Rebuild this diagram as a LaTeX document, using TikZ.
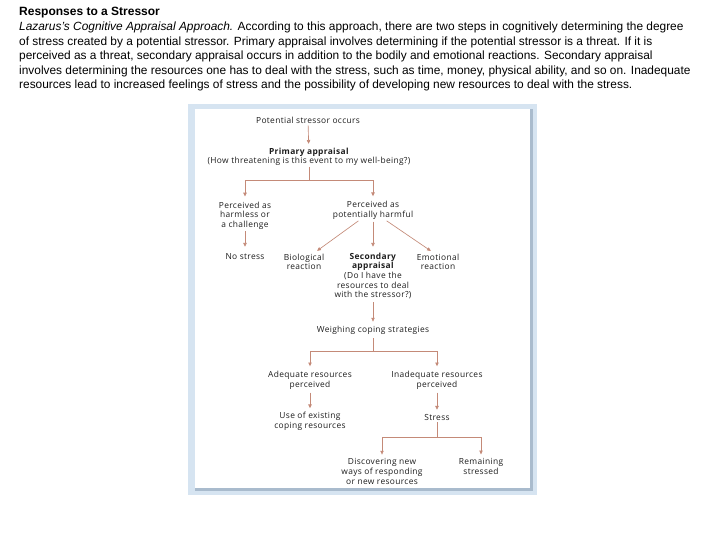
\documentclass[tikz,border=0pt]{standalone}
\usepackage{fontspec}
\setmainfont{Liberation Sans}
\newfontfamily\diagfont[LetterSpace=4]{Open Sans}
\usetikzlibrary{arrows.meta}
\definecolor{framec}{HTML}{D6E4F1}
\definecolor{frameshade}{HTML}{A9BBCD}
\definecolor{linec}{HTML}{C48A78}
\definecolor{txtc}{HTML}{1E1E1E}
\tikzset{
  lbl/.style={font=\diagfont\fontsize{8.4}{9.6}\selectfont, text=txtc, align=center, inner sep=0pt},
  conn/.style={draw=linec, line width=0.65pt},
  arr/.style={conn, -{Triangle[length=3.8pt,width=3.4pt]}},
}
\begin{document}
\begin{tikzpicture}[x=1pt,y=-1pt]
\useasboundingbox (0,0) rectangle (720,540);
% header text
\node[anchor=west, inner sep=0pt, font=\bfseries\fontsize{12}{14}\selectfont] (title) at (19,12.5) {Responses to a Stressor};
\node[anchor=north west, inner sep=0pt, align=left, font=\fontsize{11.9}{14.5}\selectfont] (body) at (19,22)
{\textit{Lazarus's Cognitive Appraisal Approach.} According to this approach, there are two steps in cognitively determining the degree\\
of stress created by a potential stressor. Primary appraisal involves determining if the potential stressor is a threat. If it is\\
perceived as a threat, secondary appraisal occurs in addition to the bodily and emotional reactions. Secondary appraisal\\
involves determining the resources one has to deal with the stress, such as time, money, physical ability, and so on. Inadequate\\
resources lead to increased feelings of stress and the possibility of developing new resources to deal with the stress.};
% frame
\fill[framec] (188,104) rectangle (537,495);
\fill[frameshade] (195,109) rectangle (533,491);
\fill[white] (195,109) rectangle (530,488);
% nodes
\node[lbl] (ps) at (308,120) {Potential stressor occurs};
\node[lbl] (pa) at (309,157) {\textbf{Primary appraisal}\\(How threatening is this event to my well-being?)};
\node[lbl] (harmless) at (245,215.5) {Perceived as\\harmless or\\a challenge};
\node[lbl] (harmful) at (373,210.5) {Perceived as\\potentially harmful};
\node[lbl] (nostress) at (245,257) {No stress};
\node[lbl] (bio) at (304,262) {Biological\\reaction};
\node[lbl] (sec) at (373,276) {\textbf{Secondary}\\\textbf{appraisal}\\(Do I have the\\resources to deal\\with the stressor?)};
\node[lbl] (emo) at (438,262) {Emotional\\reaction};
\node[lbl] (weigh) at (373,330) {Weighing coping strategies};
\node[lbl] (adeq) at (310,380.5) {Adequate resources\\perceived};
\node[lbl] (inadeq) at (437,380.5) {Inadequate resources\\perceived};
\node[lbl] (use) at (310,421.5) {Use of existing\\coping resources};
\node[lbl] (stress) at (437,417) {Stress};
\node[lbl] (disc) at (382,471.5) {Discovering new\\ways of responding\\or new resources};
\node[lbl] (remain) at (481,466.5) {Remaining\\stressed};
% branch points
\coordinate (b1) at (309,180);
\coordinate (b2) at (373,351);
\coordinate (b3) at (437,437);
% connectors
\draw[arr, shorten <=2pt, shorten >=4pt] (ps) -- (pa);
\draw[conn, shorten <=1pt] (pa.south) -- (b1);
\draw[arr, shorten >=5pt] (b1) -| (harmless.north);
\draw[arr, shorten >=5pt] (b1) -| (harmful.north);
\draw[arr, shorten <=2pt, shorten >=7pt] (harmless.south) -- (nostress.north);
\draw[arr, shorten <=2pt, shorten >=5pt] ([xshift=-13pt]harmful.south) -- ([xshift=9pt]bio.north);
\draw[arr, shorten <=2pt, shorten >=6pt] (harmful.south) -- (sec.north);
\draw[arr, shorten <=2pt, shorten >=5pt] ([xshift=12pt]harmful.south) -- ([xshift=-3pt]emo.north);
\draw[arr, shorten <=3pt, shorten >=4pt] (sec.south) -- (weigh.north);
\draw[conn, shorten <=4pt] (weigh.south) -- (b2);
\draw[arr, shorten >=5pt] (b2) -| (adeq.north);
\draw[arr, shorten >=5pt] (b2) -| (inadeq.north);
\draw[arr, shorten <=3pt, shorten >=4pt] (adeq.south) -- (use.north);
\draw[arr, shorten <=3pt, shorten >=4pt] (inadeq.south) -- (stress.north);
\draw[conn, shorten <=2pt] (stress.south) -- (b3);
\draw[arr, shorten >=4pt] (b3) -| (disc.north);
\draw[arr, shorten >=4pt] (b3) -| (remain.north);
\end{tikzpicture}
\end{document}
